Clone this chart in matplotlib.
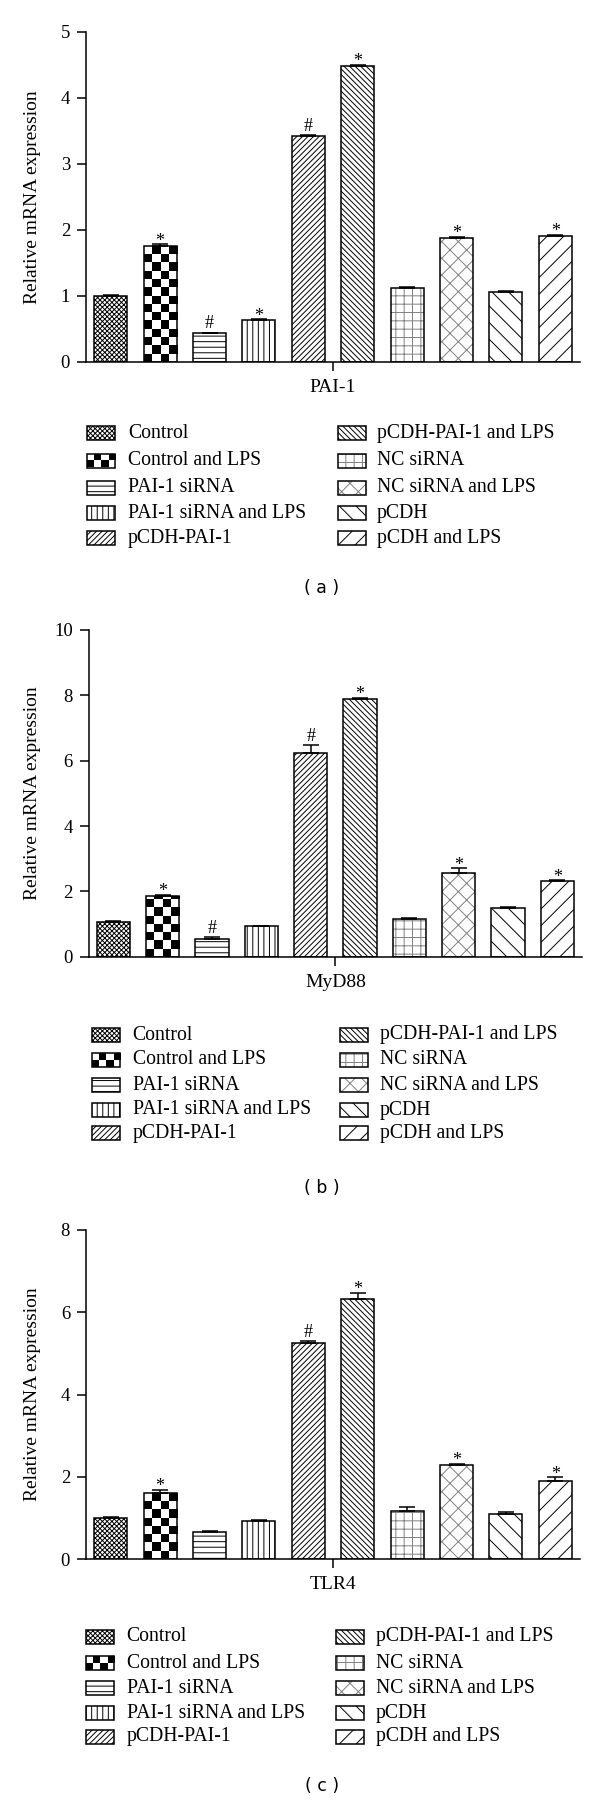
import numpy as np
import matplotlib
matplotlib.use("Agg")
import matplotlib.pyplot as plt
from matplotlib.patches import Rectangle

# ---------------- data ----------------
groups = ["Control", "Control and LPS", "PAI-1 siRNA", "PAI-1 siRNA and LPS",
          "pCDH-PAI-1", "pCDH-PAI-1 and LPS", "NC siRNA", "NC siRNA and LPS",
          "pCDH", "pCDH and LPS"]

pai1_mean = [1.00, 1.76, 0.43, 0.63, 3.42, 4.48, 1.11, 1.87, 1.05, 1.90]
pai1_err = [0.01, 0.02, 0.01, 0.01, 0.01, 0.02, 0.02, 0.02, 0.02, 0.02]
pai1_sig = ["", "*", "#", "*", "#", "*", "", "*", "", "*"]

myd88_mean = [1.06, 1.86, 0.53, 0.93, 6.22, 7.89, 1.16, 2.55, 1.50, 2.32]
myd88_err = [0.02, 0.04, 0.06, 0.02, 0.27, 0.03, 0.02, 0.15, 0.03, 0.02]
myd88_sig = ["", "*", "#", "", "#", "*", "", "*", "", "*"]

tlr4_mean = [1.00, 1.60, 0.66, 0.92, 5.25, 6.33, 1.175, 2.29, 1.09, 1.89]
tlr4_err = [0.03, 0.08, 0.02, 0.02, 0.04, 0.15, 0.10, 0.03, 0.05, 0.10]
tlr4_sig = ["", "*", "", "", "#", "*", "", "*", "", "*"]

genes = ["PAI-1", "MyD88", "TLR4"]
tags = ["( a )", "( b )", "( c )"]
ymaxes = [5, 10, 8]
ysteps = [1, 2, 2]

# fill styles per group: (kind, hatch, hatch colour)
styles = [("hatch", "xxxxxxx", "black"),
          ("checker", None, "black"),
          ("hatch", "---", "black"),
          ("hatch", "|||", "black"),
          ("hatch", "//////", "black"),
          ("hatch", "\\\\\\\\\\\\", "black"),
          ("hatch", "++", "#808080"),
          ("hatch", "xx", "#808080"),
          ("hatch", "\\\\", "black"),
          ("hatch", "//", "black")]

# ---------------- layout (pixels) ----------------
W, H = 600, 1802
plt.rcParams["font.family"] = ["Liberation Serif", "DejaVu Serif"]
plt.rcParams["hatch.linewidth"] = 0.7

fig = plt.figure(figsize=(W / 100, H / 100), dpi=100)

axes_rects = [(86, 31.7, 580, 361.7), (88.7, 630, 582, 956.7), (86, 1230, 580, 1559)]
legend_cols = [((86.7, 128), (337.7, 376.7)),
               ((91.7, 132.7), (340, 380)),
               ((86, 126.7), (336, 376))]
legend_rows = [[433.3, 460.5, 487.5, 513.3, 538.3],
               [1035, 1060, 1085, 1110, 1133.3],
               [1636.7, 1663.3, 1688.3, 1713.3, 1736.7]]
tag_y = [588, 1188, 1786]
tag_x = 322

LW = 1.1
BW = 0.67

ov = fig.add_axes([0, 0, 1, 1], zorder=-1)
ov.set_axis_off()
ov.patch.set_visible(False)


def checker_img(ax, x0, x1, y0, y1, nx, ny, clip, z):
    arr = np.indices((ny, nx)).sum(axis=0) % 2
    im = ax.imshow(arr, cmap="gray", vmin=0, vmax=1, extent=(x0, x1, y0, y1),
                   origin="lower", interpolation="nearest", aspect="auto", zorder=z)
    im.set_clip_path(clip)


def legend_patch(x0, yc, st):
    w, h = 28.3, 14
    kind, hatch, hc = st
    if kind == "checker":
        r = Rectangle((x0, yc - h / 2), w, h, facecolor="none", edgecolor="black", lw=LW, zorder=3)
        ov.add_patch(r)
        checker_img(ov, x0, x0 + w, yc + h / 2, yc - h / 2, 4, 2, r, 2)
    elif hc != "black":
        ov.add_patch(Rectangle((x0, yc - h / 2), w, h, facecolor="white", edgecolor=hc,
                               hatch=hatch, lw=0, zorder=2))
        ov.add_patch(Rectangle((x0, yc - h / 2), w, h, facecolor="none", edgecolor="black",
                               lw=LW, zorder=3))
    else:
        ov.add_patch(Rectangle((x0, yc - h / 2), w, h, facecolor="white", edgecolor="black",
                               hatch=hatch, lw=LW, zorder=2))


all_means = [pai1_mean, myd88_mean, tlr4_mean]
all_errs = [pai1_err, myd88_err, tlr4_err]
all_sigs = [pai1_sig, myd88_sig, tlr4_sig]

for p in range(3):
    l, t, r, b = axes_rects[p]
    ax = fig.add_axes([l / W, 1 - b / H, (r - l) / W, (b - t) / H])
    mean = np.array(all_means[p])
    err = np.array(all_errs[p])
    ymax = ymaxes[p]
    ppu = (b - t) / ymax
    x = np.arange(len(groups))

    for i in range(len(groups)):
        kind, hatch, hc = styles[i]
        if kind == "checker":
            bar = ax.bar(x[i], mean[i], BW, facecolor="none", edgecolor="black", lw=LW, zorder=3)[0]
            cell_y = 8.25 / ppu
            ny = int(np.ceil(mean[i] / cell_y))
            checker_img(ax, x[i] - BW / 2, x[i] + BW / 2, 0, ny * cell_y, 4, ny, bar, 2)
        elif hc != "black":
            ax.bar(x[i], mean[i], BW, facecolor="white", edgecolor=hc, hatch=hatch, lw=0, zorder=2)
            ax.bar(x[i], mean[i], BW, facecolor="none", edgecolor="black", lw=LW, zorder=3)
        else:
            ax.bar(x[i], mean[i], BW, facecolor="white", edgecolor="black", hatch=hatch, lw=LW, zorder=2)

    ax.errorbar(x, mean, yerr=[np.zeros(len(x)), err], fmt="none", ecolor="black",
                elinewidth=LW, capsize=6, capthick=LW, zorder=4)

    for i, s in enumerate(all_sigs[p]):
        if s:
            ax.annotate(s, (x[i], mean[i] + err[i]), xytext=(0, -1 if s == "*" else 3),
                        textcoords="offset points", ha="center", va="baseline", fontsize=13)

    ax.set_xlim(-0.5, 9.5)
    ax.set_ylim(0, ymax)
    for sp in ["top", "right"]:
        ax.spines[sp].set_visible(False)
    for sp in ["left", "bottom"]:
        ax.spines[sp].set_linewidth(LW)
    ax.set_yticks(np.arange(0, ymax + 0.01, ysteps[p]))
    ax.set_yticklabels([str(int(v)) for v in np.arange(0, ymax + 0.01, ysteps[p])])
    ax.set_xticks([4.5])
    ax.set_xticklabels([genes[p]])
    ax.tick_params(axis="y", direction="out", length=6.5, width=LW, labelsize=13.5, pad=5)
    ax.tick_params(axis="x", direction="out", length=6.5, width=LW, labelsize=14, pad=6)
    ax.set_ylabel("Relative mRNA expression", fontsize=14)
    ax.yaxis.set_label_coords((41 - l) / (r - l), 0.5)

    # legend
    for i in range(len(groups)):
        col = i // 5
        row = i % 5
        px, tx = legend_cols[p][col]
        yc = legend_rows[p][row]
        legend_patch(px, yc, styles[i])
        ov.text(tx, yc, groups[i], ha="left", va="center", fontsize=14.2)

    fig.text(tag_x / W, 1 - tag_y[p] / H, tags[p], ha="center", va="center",
             fontsize=12.5, family="DejaVu Sans")

ov.set_xlim(0, W)
ov.set_ylim(H, 0)

fig.savefig("out.png", dpi=100)
